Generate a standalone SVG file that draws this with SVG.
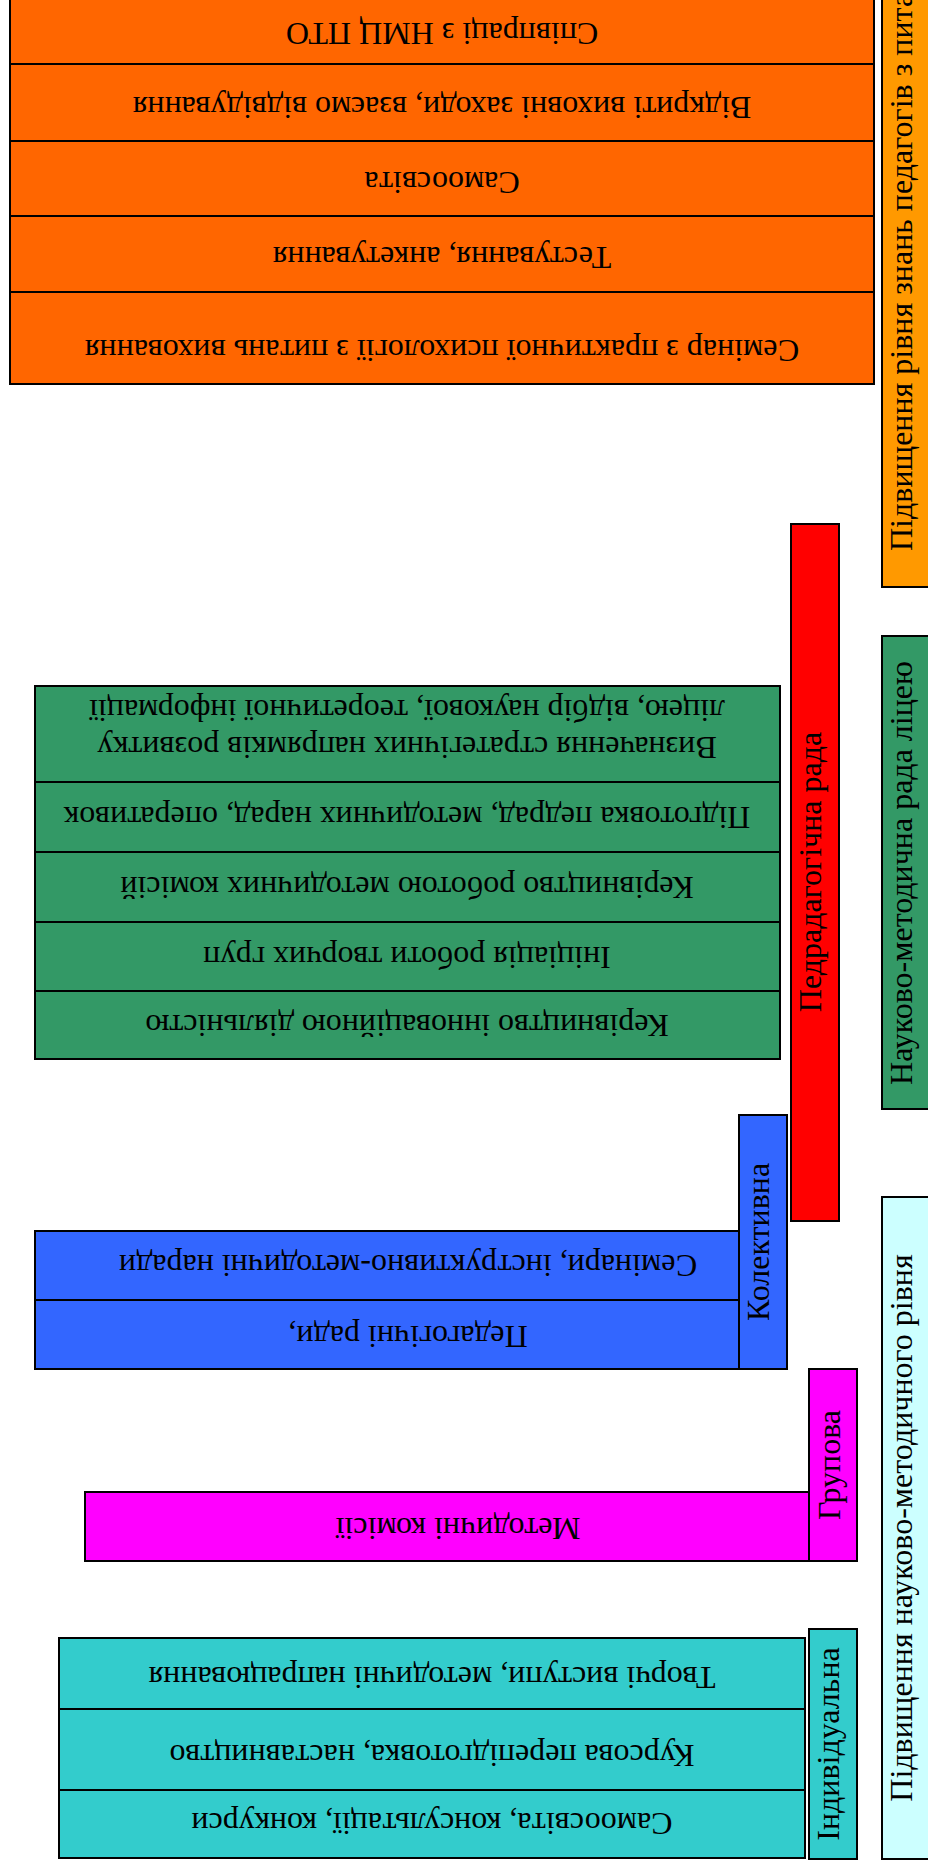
<svg xmlns="http://www.w3.org/2000/svg" width="928" height="1868" viewBox="0 0 928 1868">
<style>
rect{stroke:#000;stroke-width:2}
text{font-family:"Liberation Serif","Times New Roman",serif;font-size:32px;fill:#000}
.c{text-anchor:middle}
.s{text-anchor:start}
.or{fill:#FF6600}.ol{fill:#FF9900}.gr{fill:#339966}.rd{fill:#FF0000}
.bl{fill:#3366FF}.mg{fill:#FF00FF}.cy{fill:#33CCCC}.lc{fill:#CCFFFF}
</style>
<rect width="928" height="1868" fill="#fff" style="stroke:none"/>

<g id="orange-block">
<rect class="or" x="10" y="-10" width="864" height="74"/>
<rect class="or" x="10" y="64" width="864" height="77"/>
<rect class="or" x="10" y="141" width="864" height="75"/>
<rect class="or" x="10" y="216" width="864" height="76"/>
<rect class="or" x="10" y="292" width="864" height="92"/>
<text class="c" transform="translate(442,23) rotate(180)">Співпраці з НМЦ ПТО</text>
<text class="c" transform="translate(442,97) rotate(180)">Відкриті виховні заходи, взаємо відвідування</text>
<text class="c" transform="translate(442,172) rotate(180)">Самоосвіта</text>
<text class="c" transform="translate(442,247) rotate(180)">Тестування, анкетування</text>
<text class="c" transform="translate(442,340) rotate(180)">Семінар з практичної психології з питань виховання</text>
</g>

<g id="orange-label">
<rect class="ol" x="882" y="-10" width="48" height="597"/>
<text class="s" transform="translate(912,551) rotate(-90)">Підвищення рівня знань педагогів з питань</text>
</g>

<g id="green-block">
<rect class="gr" x="35" y="686" width="745" height="96"/>
<rect class="gr" x="35" y="782" width="745" height="70"/>
<rect class="gr" x="35" y="852" width="745" height="70"/>
<rect class="gr" x="35" y="922" width="745" height="69"/>
<rect class="gr" x="35" y="991" width="745" height="68"/>
<text class="c" transform="translate(407,737) rotate(180)">Визначення стратегічних напрямків розвитку</text>
<text class="c" transform="translate(407,700) rotate(180)">ліцею, відбір наукової, теоретичної інформації</text>
<text class="c" transform="translate(407,807) rotate(180)">Підготовка педрад, методичних нарад, оперативок</text>
<text class="c" transform="translate(407,877) rotate(180)">Керівництво роботою методичних комісій</text>
<text class="c" transform="translate(407,947) rotate(180)">Ініціація роботи творчих груп</text>
<text class="c" transform="translate(407,1015) rotate(180)">Керівництво інноваційною діяльністю</text>
</g>

<g id="red-label">
<rect class="rd" x="791" y="524" width="48" height="697"/>
<text class="c" transform="translate(821,872) rotate(-90)">Педрадагогічна рада</text>
</g>

<g id="green-label">
<rect class="gr" x="882" y="636" width="48" height="473"/>
<text class="c" transform="translate(912,873) rotate(-90)">Науково-методична рада ліцею</text>
</g>

<g id="blue-label">
<rect class="bl" x="739" y="1115" width="48" height="254"/>
<text class="c" transform="translate(769,1242) rotate(-90)">Колективна</text>
</g>

<g id="blue-block">
<rect class="bl" x="35" y="1231" width="704" height="69"/>
<rect class="bl" x="35" y="1300" width="704" height="69"/>
<text class="c" transform="translate(408,1255) rotate(180)">Семінари, інструктивно-методичні наради</text>
<text class="c" transform="translate(408,1326) rotate(180)">Педагогічні ради,</text>
</g>

<g id="magenta-label">
<rect class="mg" x="809" y="1369" width="48" height="192"/>
<text class="c" transform="translate(840,1465) rotate(-90)">Групова</text>
</g>

<g id="magenta-block">
<rect class="mg" x="85" y="1492" width="724" height="69"/>
<text class="c" transform="translate(458,1518) rotate(180)">Методичні комісії</text>
</g>

<g id="lightcyan-label">
<rect class="lc" x="882" y="1197" width="48" height="662"/>
<text class="c" transform="translate(912,1528) rotate(-90)">Підвищення науково-методичного рівня</text>
</g>

<g id="cyan-label">
<rect class="cy" x="809" y="1629" width="48" height="230"/>
<text class="c" transform="translate(839,1744) rotate(-90)">Індивідуальна</text>
</g>

<g id="cyan-block">
<rect class="cy" x="59" y="1638" width="746" height="71"/>
<rect class="cy" x="59" y="1709" width="746" height="81"/>
<rect class="cy" x="59" y="1790" width="746" height="68"/>
<text class="c" transform="translate(432,1667) rotate(180)">Творчі виступи, методичні напрацювання</text>
<text class="c" transform="translate(432,1745) rotate(180)">Курсова перепідготовка, наставництво</text>
<text class="c" transform="translate(432,1813) rotate(180)">Самоосвіта, консультації, конкурси</text>
</g>

<g id="connectors"></g>
</svg>
